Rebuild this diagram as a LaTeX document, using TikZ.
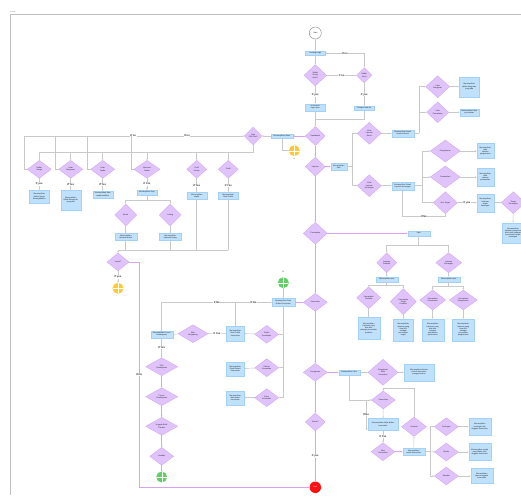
\documentclass[tikz,border=0pt]{standalone}
\usepackage{fontspec}
\setmainfont{Liberation Sans}
\usetikzlibrary{shapes.geometric,arrows.meta,calc}
\definecolor{dfill}{HTML}{DFC3FA}
\definecolor{dline}{HTML}{CFA2F2}
\definecolor{bfill}{HTML}{BFE1FC}
\definecolor{bline}{HTML}{A3D0F6}
\definecolor{gline}{HTML}{C9C9C9}
\definecolor{pline}{HTML}{DAA2F2}
\definecolor{yel}{HTML}{FFC933}
\definecolor{grn}{HTML}{62D067}
\definecolor{rd}{HTML}{FF1010}
\tikzset{
 x=1pt,y=-1pt,
 every node/.style={font=\fontsize{1.9}{2.2}\selectfont, align=center, inner sep=0.2pt, text=black!85},
 dia/.style={diamond, fill=dfill, draw=dline, line width=0.3pt, inner sep=0pt},
 box/.style={rectangle, fill=bfill, draw=bline, line width=0.3pt},
 gl/.style={draw=gline, line width=0.45pt, -{Stealth[length=1.6pt,width=1.5pt]}},
 pl/.style={draw=pline, line width=0.55pt, -{Stealth[length=1.7pt,width=1.6pt]}},
 nl/.style={draw=gline, line width=0.45pt},
 npl/.style={draw=pline, line width=0.55pt},
 lbl/.style={fill=white, font=\fontsize{2.6}{3}\selectfont\bfseries, inner sep=0.6pt},
 conn/.style={circle, minimum size=11pt, inner sep=0pt, path picture={\draw[white,line width=0.35pt] (path picture bounding box.north) -- (path picture bounding box.south) (path picture bounding box.west) -- (path picture bounding box.east);}},
}
\newcommand{\Dn}[6]{\node[dia,minimum width={2*#4},minimum height={2*#5}] (#1) at (#2,#3) {#6};}
\newcommand{\Bx}[6]{\node[box,minimum width=#4,minimum height=#5] (#1) at (#2,#3) {#6};}
\begin{document}
\begin{tikzpicture}
\useasboundingbox[fill=white] (0,0) rectangle (521,495);
\draw[black!25, line width=0.5pt] (10,495) -- (10,14) -- (521,14);
\node[anchor=south west, text=black!45, font=\fontsize{1.8}{2}\selectfont] (grp) at (10,13.6) {group};

% ---------- top ----------
\node[circle, draw=black!60, fill=white, line width=0.3pt, minimum size=12pt, inner sep=0pt] (start) at (315.3,33) {Start};
\Bx{lp}{315.3}{53.3}{20}{4.5}{Landing Page}
\Dn{akun}{315.3}{75.3}{11.3}{10.7}{Sudah\\Punya\\Akun?}
\Dn{daftar}{364.3}{75.3}{7.7}{7.7}{Daftar\\Akun}
\Bx{login}{315.3}{107.3}{20}{7}{Isi formulir\\login akun}
\Bx{integ}{364.3}{108.3}{19.5}{4.5}{Mengisi data diri}
\Dn{dash}{315.3}{136}{10}{9.5}{Dashboard}
\Bx{menu}{282}{136}{22}{4.5}{Menampilkan Menu}
\node[conn, fill=yel] (ya) at (294.3,150.7) {};
\node (la) at (294.3,159) {A};
\Dn{pilih}{253.3}{136}{9}{9}{Mau\\Pilih Fitur?}

% ---------- feature row ----------
\Dn{d1}{39.3}{169.3}{12}{9}{Daftar\\Harga}
\Dn{d2}{70.7}{169.3}{12}{9}{Lihat\\Bangunan}
\Dn{d3}{102.7}{169.3}{12}{9}{Lihat\\Tanda}
\Dn{d4}{147}{169.3}{13}{9}{Informasi\\Tender}
\Dn{d5}{196.7}{169.3}{10}{9}{Profil\\Usaha}
\Dn{d6}{228.3}{169.3}{10}{9}{Profil}
\Bx{b1}{39.3}{196.7}{20}{13}{Menampilkan\\Daftar Harga\\Barang/Bahan}
\Bx{b2}{70.7}{200.3}{20}{20}{Menampilkan\\Daftar Bangunan\\yang ada}
\Bx{b3}{102.7}{194.3}{20}{7}{Menampilkan data\\tanda/sertifikat}
\Bx{b4}{147}{192.3}{20}{5}{Menampilkan Opsi}
\Bx{b5}{196.7}{195.7}{20}{7}{Menampilkan\\usaha}
\Bx{b6}{228.3}{195.7}{20}{7}{Menampilkan\\Data Profile}
\Dn{berita}{125.7}{215}{11}{11}{Berita}
\Dn{lelang}{170.3}{215}{11}{11}{Lelang}
\Bx{bb}{125.7}{237}{22}{7}{Menampilkan\\halaman berita}
\Bx{bl}{170.3}{237}{22}{7}{Menampilkan\\halaman lelang}
\Dn{lanjut}{118}{262}{11}{9}{Lanjut?}
\node[conn, fill=yel] (yb) at (118,288.3) {};

% ---------- spine ----------
\Dn{lap}{315.3}{166.7}{10}{9.5}{Laporan}
\Dn{penc}{315.3}{233.3}{12}{11}{Pencatatan}
\Dn{kom}{315.3}{302.3}{12}{9}{Komunitas}
\Dn{peng2}{315.3}{372.3}{12}{9}{Pengaturan}
\Dn{kel}{315.3}{422}{10}{9}{Keluar?}
\node[circle, fill=rd, minimum size=11.5pt, inner sep=0pt, text=white] (endc) at (315.3,487.3) {End};

% ---------- laporan ----------
\Bx{opsiL}{338.7}{166.7}{16}{7}{Menampilkan\\Opsi}
\Dn{lb}{369.3}{133.3}{12}{11}{Lihat\\Laporan\\Bisnis}
\Dn{lk}{369.3}{185.7}{12}{11}{Lihat\\Laporan\\Keuangan}
\Bx{mdlb}{402.7}{133.3}{22}{7}{Menampilkan Detail\\Laporan Bisnis}
\Bx{mdlk}{402.7}{185.7}{22}{8}{Menampilkan Detail\\Laporan Keuangan}
\Dn{lbg}{437.7}{86.7}{12}{11}{Lihat\\Bangunan}
\Dn{lpc}{437.7}{112.3}{11}{10.5}{Lihat\\Pencatatan}
\Bx{bxg}{469.3}{86.7}{20}{20}{Menampilkan\\daftar bangunan\\yang ada}
\Bx{bxp}{469.3}{112.3}{19}{7}{Menampilkan data\\pencatatan}
\Dn{peng}{445.3}{151}{15}{11}{Pengeluaran}
\Dn{pem}{445.3}{177}{15}{11}{Pemasukan}
\Dn{atur}{445.3}{202.7}{12}{11}{Atur Target}
\Bx{bpeng}{485.3}{151}{17}{15}{Menampilkan\\data\\catatan\\pengeluaran}
\Bx{bpem}{485.3}{177}{17}{18}{Menampilkan\\data\\catatan\\pemasukan}
\Bx{mtk}{485.3}{202.7}{17}{18}{Menampilkan\\halaman\\target\\keuangan}
\Dn{tk}{513.3}{202.7}{12}{11}{Target\\Keuangan}
\Bx{tkb}{513}{233}{21}{20.7}{Menampilkan\\halaman yang bisa\\diisi untuk sebagai\\pencatatan target\\keuangan}

% ---------- pencatatan ----------
\Bx{opsiP}{418.7}{233.3}{22}{5}{Opsi}
\Dn{lp1}{386.7}{262.7}{10}{10}{Laporan\\Produksi}
\Dn{lk1}{448.7}{262.7}{13}{10}{Laporan\\Keuangan}
\Bx{mo1}{386.7}{279.3}{22}{5}{Menampilkan opsi}
\Bx{mo2}{448.7}{279.3}{22}{5}{Menampilkan opsi}
\Dn{pp}{368.7}{297.7}{12}{11}{Pencatatan\\Produksi}
\Dn{ptp}{403.3}{301.7}{13}{13}{Pencatatan\\Target\\Produksi}
\Dn{ppm}{432.7}{300}{13}{10}{Pencatatan\\Pemasukan}
\Dn{ppg}{463.3}{300}{14}{10}{Pencatatan\\Pengeluaran}
\Bx{bpp}{368.7}{328.3}{22}{22}{Menampilkan\\halaman yang\\bisa diisi\\sebagai pencatatan\\produksi}
\Bx{bptp}{403.3}{330}{20}{22}{Menampilkan\\halaman yang\\bisa diisi\\sebagai\\pencatatan\\target}
\Bx{bppm}{432.7}{330}{22}{22}{Menampilkan\\halaman yang\\bisa diisi\\sebagai\\pencatatan\\pemasukan}
\Bx{bppg}{463.3}{330}{22}{22}{Menampilkan\\halaman yang\\bisa diisi\\sebagai\\pencatatan\\pengeluaran}

% ---------- komunitas ----------
\Bx{mdk}{283.3}{302.3}{23}{8}{Menampilkan Data\\Daftar Komunitas}
\node[conn, fill=grn] (gb) at (283.3,282.7) {};
\node (lbB) at (283.3,272.3) {B};
\Dn{pk}{266.7}{334.3}{12}{9}{Profile\\Komunitas}
\Dn{dk}{266.7}{367.7}{12}{9}{Diskusi\\Komunitas}
\Dn{ek}{266.7}{397.7}{12}{9}{Event\\Komunitas}
\Bx{mdp}{235.3}{333.3}{18}{15}{Menampilkan\\Data Profile\\Komunitas}
\Bx{mdd}{235.3}{368.7}{18}{14}{Menampilkan\\Data Diskusi\\Komunitas}
\Bx{mde}{235.3}{397.7}{18}{14}{Menampilkan\\data event\\komunitas}
\Dn{mau}{193}{333.7}{15}{9}{Mau\\Bergabung}
\Bx{mpp}{161.7}{334.3}{22}{7}{Menampilkan Proses\\Pembayaran}
\Dn{pilihP}{161.7}{366.7}{16}{9}{Pilih\\Pembayaran}
\Dn{prosesP}{161.7}{396.7}{16}{9}{Proses\\Pembayaran}
\Dn{unggah}{161.7}{426.3}{16}{9}{Unggah Bukti\\Transfer}
\Dn{kembali}{161.7}{456.3}{12}{9}{Kembali}
\node[conn, fill=grn] (gg) at (161.7,477) {};

% ---------- pengaturan ----------
\Bx{mop}{349.3}{372.3}{21}{5}{Menampilkan Opsi}
\Dn{pa}{383}{372.3}{15}{13}{Pengaturan\\Akun\\Komunitas}
\Bx{pab}{419}{372.3}{30}{17}{Menampilkan Konten\\kontrol dan akses\\pengguna akun}
\Dn{kom2}{383.3}{400}{12}{9}{Komunitas}
\Bx{mdk2}{383}{424.3}{30}{12}{Menampilkan daftar-daftar\\komunitas}
\Dn{mauk}{383}{451.7}{12}{9}{Mau\\Komunitas}
\Bx{mpk}{413.7}{451.7}{22}{7}{Menampilkan\\profile komunitas}
\Dn{kemb2}{414}{426.7}{12.5}{9.7}{Kembali}
\Dn{post}{446.3}{426.7}{12}{9}{Postingan}
\Dn{media}{446.3}{452}{12}{9}{Media}
\Dn{member}{446.3}{476}{12}{9}{Member}
\Bx{bpost}{479.7}{426.7}{22}{17}{Menampilkan\\postingan dari\\anggota komunitas}
\Bx{bmedia}{479.7}{452}{22}{17}{Menampilkan media\\yang dibikin oleh\\anggota komunitas}
\Bx{bmember}{481.7}{476}{22}{15}{Menampilkan\\semua anggota\\komunitas}

% ================= connectors =================
\draw[gl] (start) -- (lp);
\draw[gl] (lp) -- (akun);
\draw[gl] (akun) -- node[lbl]{If no} (daftar);
\draw[gl] (daftar.north) |- node[lbl,pos=0.75]{If no} (lp.east);
\draw[gl] (akun) -- node[lbl]{If yes} (login);
\draw[gl] (daftar) -- node[lbl]{If yes} (integ);
\coordinate (j1) at (315.3,119);
\draw[gl] (login.south) -- (dash.north);
\draw[nl] (integ.south) |- (j1);
\draw[pl] (dash) -- (menu);
\draw[gl] (menu) -- (pilih);
\draw[nl] (menu.south) |- (ya);

\coordinate (bus1) at (253.3,152.7);
\coordinate (bus1L) at (39.3,152.7);
\draw[nl] (pilih.south) -- (bus1) -- (bus1L);
\foreach \d in {d1,d2,d3,d4,d5,d6}{\draw[gl] (\d.north |- bus1) -- (\d.north);}
\coordinate (ret) at (24,136);
\coordinate (r2) at (55.3,136);
\coordinate (r3) at (87.3,136);
\coordinate (r4) at (131.7,136);
\draw[gl] (ret) -- node[lbl,pos=0.496]{If no} node[lbl,pos=0.741]{If no} (pilih.west);
\draw[nl] (d1.west) -| (ret);
\draw[nl] (d2.west) -| (r2);
\draw[nl] (d3.west) -| (r3);
\draw[nl] (d4.west) -| (r4);
\draw[gl] (d1) -- node[lbl]{If yes} (b1);
\draw[gl] (d2) -- node[lbl]{If Yes} (b2);
\draw[gl] (d3) -- node[lbl]{If Yes} (b3);
\draw[gl] (d4) -- node[lbl]{If Yes} (b4);
\draw[gl] (d5) -- node[lbl]{If Yes} (b5);
\draw[gl] (d6) -- node[lbl]{If Yes} (b6);
\coordinate (s4) at (147,200.7);
\draw[nl] (b4.south) -- (s4);
\draw[gl] (s4) -| (berita.north);
\draw[gl] (s4) -| (lelang.north);
\draw[gl] (berita) -- (bb);
\draw[gl] (lelang) -- (bl);
\coordinate (bus2) at (118,250);
\foreach \b in {bb,bl,b5,b6}{\draw[nl] (\b.south) -- (\b.south |- bus2);}
\draw[nl] (b6.south |- bus2) -- (bus2);
\draw[gl] (bus2) -- (lanjut.north);
\draw[gl] (lanjut) -- node[lbl]{If yes} (yb);
\coordinate (lr) at (139.3,262);
\draw[npl] (lanjut.east) -- (lr);
\draw[pl] (lr) |- node[lbl,pos=0.25]{If No} (endc);

% spine
\draw[pl] (dash) -- (lap);
\draw[pl] (lap) -- (penc);
\draw[pl] (penc) -- (kom);
\draw[pl] (kom) -- (peng2);
\draw[pl] (peng2) -- (kel);
\draw[pl] (kel) -- node[lbl]{If yes} (endc);

% laporan
\draw[pl] (lap) -- (opsiL);
\coordinate (v1) at (352.7,166.7);
\draw[nl] (opsiL) -- (v1);
\draw[gl] (v1) |- (lb);
\draw[gl] (v1) |- (lk);
\draw[gl] (lb) -- (mdlb);
\draw[gl] (lk) -- (mdlk);
\coordinate (v2) at (419.3,133.3);
\draw[nl] (mdlb) -- (v2);
\draw[gl] (v2) |- (lbg);
\draw[gl] (v2) |- (lpc);
\draw[gl] (lbg) -- (bxg);
\draw[gl] (lpc) -- (bxp);
\coordinate (v3) at (422.7,185.7);
\draw[nl] (mdlk) -- (v3);
\draw[gl] (v3) |- (peng);
\draw[gl] (v3) |- (pem);
\draw[gl] (v3) |- (atur);
\draw[gl] (peng) -- (bpeng);
\draw[gl] (pem) -- (bpem);
\draw[gl] (atur) -- node[lbl]{If yes} (mtk);
\draw[gl] (mtk) -- (tk);
\draw[gl] (tk) -- (tkb);
\coordinate (rn) at (445.3,216.7);
\draw[nl] (atur.south) -- (rn);
\draw[gl] (rn) -| node[lbl,pos=0.25]{If No} (mdlk.south);

% pencatatan
\draw[pl] (penc) -- (opsiP);
\coordinate (s5) at (418.7,245);
\draw[nl] (opsiP) -- (s5);
\draw[gl] (s5) -| (lp1);
\draw[gl] (s5) -| (lk1);
\draw[gl] (lp1) -- (mo1);
\draw[gl] (lk1) -- (mo2);
\coordinate (s6) at (386.7,285.7);
\coordinate (s7) at (448.7,286.7);
\draw[nl] (mo1) -- (s6);
\draw[nl] (mo2) -- (s7);
\draw[gl] (s6) -| (pp);
\draw[gl] (s6) -| (ptp);
\draw[gl] (s7) -| (ppm);
\draw[gl] (s7) -| (ppg);
\draw[gl] (pp) -- (bpp);
\draw[gl] (ptp) -- (bptp);
\draw[gl] (ppm) -- (bppm);
\draw[gl] (ppg) -- (bppg);

% komunitas
\draw[pl] (kom) -- (mdk);
\draw[gl] (gb) -- (mdk);
\coordinate (v4) at (283.3,397.7);
\draw[nl] (mdk) -- (v4);
\draw[gl] (pk.east -| v4) -- (pk);
\draw[gl] (dk.east -| v4) -- (dk);
\draw[gl] (v4) -- (ek);
\draw[gl] (pk) -- (mdp);
\draw[gl] (dk) -- (mdd);
\draw[gl] (ek) -- (mde);
\draw[gl] (mdp) -- node[lbl]{If Yes} (mau);
\draw[gl] (mau) -- (mpp);
\coordinate (t1) at (235.3,302.3);
\coordinate (t2) at (161.7,302.3);
\draw[gl] (mdp.north) -- (t1) -- node[lbl]{If No} (mdk.west);
\draw[nl] (mpp.north) -- (t2) -- node[lbl,pos=0.75]{If No} (t1);
\draw[gl] (mpp) -- node[lbl]{If Yes} (pilihP);
\draw[pl] (pilihP) -- (prosesP);
\draw[pl] (prosesP) -- (unggah);
\draw[pl] (unggah) -- (kembali);
\draw[pl] (kembali) -- (gg);

% pengaturan
\draw[pl] (peng2) -- (mop);
\draw[gl] (mop) -- (pa);
\draw[gl] (pa) -- (pab);
\draw[gl] (mop.south) |- (kom2);
\draw[gl] (kom2) -- (mdk2);
\coordinate (k2) at (366,400);
\coordinate (k3) at (368,429);
\draw[gl] (k2) |- node[lbl,pos=0.25]{If No} (k3);
\draw[gl] (mdk2) -- node[lbl]{If Yes} (mauk);
\draw[pl] (mauk) -- (mpk);
\draw[gl] (mpk) -- (kemb2);
\coordinate (k4) at (383.3,388.7);
\draw[nl] (kemb2.north) |- (k4);
\draw[gl] (k4) -- (kom2.north);
\coordinate (v5) at (430,451.7);
\draw[nl] (mpk) -- (v5);
\draw[gl] (v5) |- (post);
\draw[gl] (v5) -- (media);
\draw[gl] (v5) |- (member);
\draw[gl] (post) -- (bpost);
\draw[gl] (media) -- (bmedia);
\draw[gl] (member) -- (bmember);
\end{tikzpicture}
\end{document}
